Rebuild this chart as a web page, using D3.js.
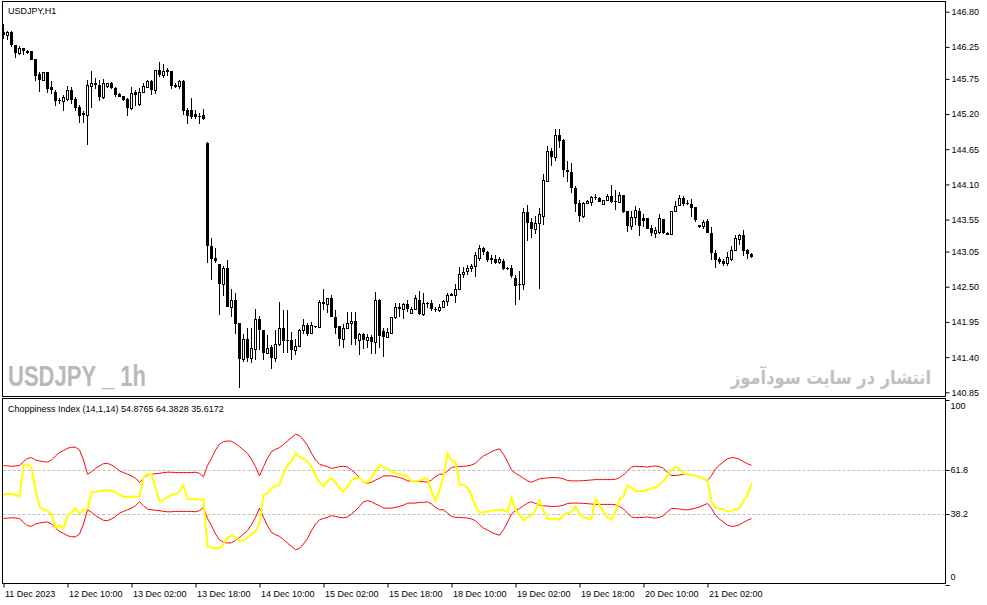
<!DOCTYPE html>
<html><head><meta charset="utf-8">
<script src="https://cdn.jsdelivr.net/npm/d3@7"></script>
<style>
body{margin:0;background:#fff}
svg{display:block}
text{font-family:"Liberation Sans",Arial,sans-serif}
</style>
</head><body>
<svg id="chart" width="987" height="605"></svg>
<script>
// ---------- DATA (USDJPY H1) ----------
const opens=[146.49,146.44,146.49,146.28,146.16,146.24,146.19,146.18,146.06,145.82,
145.74,145.85,145.62,145.55,145.42,145.40,145.44,145.58,145.43,145.31,
145.21,145.19,145.64,145.69,145.66,145.47,145.64,145.68,145.61,145.52,
145.48,145.43,145.29,145.54,145.36,145.54,145.63,145.71,145.57,145.89,
145.81,145.89,145.88,145.66,145.64,145.72,145.27,145.27,145.20,145.17,
145.19,144.75,143.14,142.95,142.85,142.54,142.80,142.19,142.30,141.93,
141.37,141.69,141.38,141.53,141.99,141.83,141.46,141.56,141.39,141.61,
141.85,141.66,141.66,141.51,141.57,141.83,141.90,141.77,141.88,141.87,
142.26,142.23,142.33,142.02,141.88,141.69,141.86,141.93,141.96,141.66,
141.76,141.66,141.72,141.64,142.30,141.81,141.72,141.78,142.02,142.19,
142.16,142.23,142.09,142.15,142.30,142.07,142.25,142.25,142.16,142.14,
142.18,142.27,142.38,142.37,142.47,142.70,142.74,142.80,142.82,142.95,
143.10,143.04,142.95,142.94,142.88,142.91,142.80,142.80,142.63,142.55,
142.55,143.67,143.52,143.41,143.49,143.61,144.16,144.62,144.53,144.87,
144.80,144.33,144.30,144.05,143.81,143.61,143.81,143.83,143.91,143.89,
143.79,143.85,143.92,143.84,143.83,143.93,143.69,143.45,143.59,143.69,
143.57,143.57,143.42,143.34,143.36,143.56,143.34,143.32,143.69,143.78,
143.88,143.81,143.79,143.74,143.46,143.45,143.53,143.34,143.03,142.93,
142.91,142.87,142.94,143.07,143.25,143.31,143.07,143.01];
const highs=[146.61,146.50,146.50,146.28,146.27,146.24,146.20,146.18,146.06,145.86,
145.85,145.85,145.71,145.58,145.45,145.50,145.64,145.62,145.47,145.34,
145.24,145.74,145.87,145.76,145.74,145.75,145.69,145.70,145.63,145.53,
145.48,145.45,145.62,145.58,145.61,145.68,145.74,145.74,145.89,146.02,
145.98,145.92,145.88,145.68,145.74,145.74,145.30,145.45,145.27,145.21,
145.28,144.76,143.26,143.10,142.85,142.82,142.92,142.47,142.40,141.93,
141.76,141.85,141.85,142.16,142.04,141.83,141.75,141.59,141.82,142.26,
142.13,142.13,141.80,141.69,141.84,141.99,141.94,141.95,141.89,142.29,
142.46,142.33,142.37,142.13,141.88,141.91,142.10,142.11,142.10,141.78,
141.78,141.76,141.74,142.42,142.31,141.85,141.85,142.03,142.25,142.24,
142.25,142.29,142.18,142.37,142.44,142.40,142.26,142.30,142.18,142.23,
142.30,142.40,142.40,142.54,142.81,142.81,142.84,142.86,143.04,143.15,
143.12,143.06,143.00,143.00,142.96,142.94,142.81,142.84,142.68,142.74,
143.73,143.78,143.58,143.60,143.73,144.27,144.70,144.67,144.96,144.96,
144.81,144.46,144.43,144.07,143.85,143.83,143.85,143.92,143.95,143.90,
143.86,143.95,144.09,144.01,143.98,143.94,143.69,143.69,143.76,143.73,
143.64,143.58,143.47,143.43,143.64,143.56,143.35,143.69,143.84,143.93,
143.92,143.85,143.87,143.75,143.47,143.55,143.56,143.44,143.07,142.96,
142.94,143.04,143.13,143.31,143.33,143.39,143.09,143.03];
const lows=[146.38,146.36,146.25,146.08,146.13,146.12,146.14,146.05,145.72,145.54,
145.71,145.53,145.52,145.33,145.36,145.24,145.41,145.36,145.24,145.06,
145.06,144.72,145.29,145.59,145.41,145.43,145.61,145.59,145.46,145.46,
145.40,145.17,145.27,145.32,145.32,145.53,145.62,145.50,145.52,145.78,
145.76,145.79,145.59,145.60,145.59,145.18,145.05,145.12,145.13,145.05,
145.11,142.87,142.60,142.87,142.06,142.36,142.19,142.03,141.76,140.92,
141.32,141.32,141.31,141.36,141.51,141.36,141.45,141.21,141.32,141.57,
141.47,141.47,141.35,141.44,141.57,141.76,141.73,141.77,141.85,141.87,
142.13,142.09,142.03,141.76,141.57,141.55,141.84,141.59,141.59,141.43,
141.52,141.55,141.45,141.45,141.55,141.40,141.71,141.77,141.99,142.03,
142.00,142.11,142.07,142.13,142.06,142.05,142.17,142.12,142.11,142.11,
142.17,142.20,142.35,142.24,142.45,142.63,142.68,142.73,142.65,142.90,
143.00,142.89,142.86,142.86,142.85,142.76,142.76,142.64,142.21,142.29,
142.45,143.22,143.26,143.33,142.47,143.46,144.13,144.39,144.47,144.67,
144.22,144.14,143.97,143.67,143.52,143.57,143.79,143.76,143.86,143.82,
143.79,143.84,143.81,143.70,143.81,143.66,143.35,143.39,143.47,143.29,
143.44,143.40,143.29,143.26,143.33,143.32,143.31,143.31,143.68,143.77,
143.77,143.78,143.59,143.52,143.42,143.41,143.34,142.92,142.79,142.86,
142.82,142.83,142.91,143.06,143.16,142.98,142.93,142.95];
const closes=[146.44,146.48,146.28,146.16,146.24,146.19,146.16,146.05,145.80,145.74,
145.85,145.59,145.57,145.40,145.41,145.47,145.58,145.42,145.29,145.17,
145.18,145.66,145.68,145.65,145.47,145.68,145.69,145.61,145.50,145.47,
145.42,145.29,145.53,145.49,145.55,145.64,145.71,145.57,145.89,145.81,
145.87,145.86,145.64,145.62,145.71,145.24,145.17,145.16,145.15,145.17,
145.12,143.13,142.94,142.91,142.54,142.79,142.19,142.30,141.91,141.37,
141.69,141.38,141.55,141.99,141.83,141.46,141.55,141.38,141.61,141.85,
141.65,141.66,141.51,141.57,141.83,141.90,141.76,141.90,141.87,142.26,
142.23,142.33,142.03,141.86,141.69,141.86,141.94,141.96,141.68,141.76,
141.66,141.72,141.64,142.30,141.73,141.72,141.80,142.02,142.19,142.16,
142.23,142.15,142.15,142.32,142.07,142.25,142.23,142.16,142.13,142.19,
142.27,142.37,142.36,142.47,142.70,142.73,142.79,142.83,142.99,143.10,
143.04,142.92,142.92,142.87,142.93,142.78,142.77,142.67,142.51,142.53,
143.67,143.49,143.41,143.49,143.63,144.17,144.62,144.53,144.87,144.78,
144.32,144.29,144.04,143.80,143.61,143.81,143.84,143.91,143.88,143.83,
143.86,143.92,143.83,143.84,143.93,143.67,143.45,143.59,143.70,143.45,
143.53,143.40,143.34,143.38,143.57,143.34,143.31,143.69,143.76,143.88,
143.80,143.79,143.73,143.54,143.44,143.52,143.34,143.02,142.92,142.89,
142.86,142.96,143.08,143.26,143.31,143.06,143.01,142.97];

// Choppiness Index (14,1,14)
const chop=[48.4,48.9,49.1,48.4,47.5,64.6,65.0,63.2,51.1,42.1,
40.3,39.8,38.0,30.8,31.9,30.1,37.3,39.1,41.2,38.5,
40.3,40.8,50.2,50.2,50.4,50.8,51.1,50.6,49.9,48.4,
47.5,47.5,47.5,47.5,47.7,57.8,59.6,59.8,52.0,45.2,
45.5,47.3,48.4,48.9,50.2,53.5,46.1,46.1,46.1,46.1,
45.5,20.5,20.0,19.6,19.6,21.8,25.4,26.5,25.4,23.6,
23.6,25.4,27.2,28.6,33.1,48.4,49.3,52.0,53.3,53.8,
60.1,64.3,66.8,70.9,69.1,67.9,66.4,63.7,59.2,55.3,
52.9,55.9,57.4,55.3,52.0,50.2,52.9,56.5,57.4,57.8,
55.3,55.3,57.8,61.4,64.3,63.5,62.5,61.0,60.3,59.6,
59.2,58.3,56.0,56.0,56.2,57.1,57.1,50.2,45.2,51.1,
58.3,70.9,66.8,66.4,54.2,53.8,52.4,48.4,42.1,38.9,
39.1,39.4,39.8,40.1,40.3,40.5,39.1,47.0,40.3,38.0,
34.4,36.2,37.3,40.3,45.7,39.8,35.5,35.5,35.5,34.9,
37.6,38.5,39.4,42.1,38.0,36.2,35.5,35.5,46.3,43.0,
39.4,36.2,34.9,39.4,46.3,47.5,53.5,52.4,50.6,50.6,
50.6,51.1,52.0,52.4,54.2,56.0,58.9,61.9,63.5,62.5,
60.1,59.6,59.2,58.7,58.1,57.1,56.5,44.8,41.6,40.9,
40.7,39.4,39.8,40.5,41.2,45.2,48.4,54.7];
const chopUpper=[64.3,64.1,63.9,64.1,64.3,66.4,68.2,68.6,67.3,66.8,
66.4,66.2,67.3,69.5,71.3,72.4,73.6,74.2,74.2,72.7,
67.3,59.6,61.0,62.8,64.1,65.3,65.5,64.6,63.2,61.4,
60.5,59.6,58.7,57.4,55.3,57.4,59.2,59.6,59.9,60.1,
60.5,60.7,60.7,60.5,60.5,60.5,60.5,60.5,60.7,60.1,
58.3,64.3,68.2,72.7,75.8,77.2,77.6,77.4,76.1,74.5,
72.7,70.9,67.7,63.7,58.7,63.7,68.2,71.8,73.1,74.0,
75.8,77.6,79.4,81.2,80.5,78.1,75.1,70.9,67.3,65.0,
64.3,63.7,62.8,63.2,63.7,63.9,63.5,61.9,60.1,57.8,
55.3,54.7,55.3,56.5,57.4,58.7,58.7,58.7,58.3,57.8,
57.1,56.0,56.0,56.0,55.6,55.6,55.3,56.5,58.3,59.6,
59.6,61.4,63.2,63.7,63.7,63.9,64.1,64.6,65.5,67.7,
69.5,70.6,71.8,72.7,73.3,70.4,66.4,61.9,60.1,58.9,
57.4,56.0,55.3,56.2,57.1,57.4,57.6,57.8,57.8,57.6,
57.1,56.2,56.0,56.0,56.0,56.2,56.3,56.5,56.7,56.7,
56.7,56.7,56.7,56.9,57.8,59.2,61.4,63.5,63.9,63.7,
63.7,63.5,63.9,64.1,63.7,62.8,60.7,58.9,58.9,59.2,
59.6,59.6,59.2,58.7,58.1,57.1,56.2,58.9,62.5,64.6,
66.4,67.9,68.6,68.4,67.7,66.4,65.3,64.4];
const chopLower=[35.7,35.9,36.1,35.9,35.7,33.6,31.8,31.4,32.7,33.2,
33.6,33.8,32.7,30.5,28.7,27.6,26.4,25.8,25.8,27.3,
32.7,40.4,39.0,37.2,35.9,34.7,34.5,35.4,36.8,38.6,
39.5,40.4,41.3,42.6,44.7,42.6,40.8,40.4,40.1,39.9,
39.5,39.3,39.3,39.5,39.5,39.5,39.5,39.5,39.3,39.9,
41.7,35.7,31.8,27.3,24.2,22.8,22.4,22.6,23.9,25.5,
27.3,29.1,32.3,36.3,41.3,36.3,31.8,28.2,26.9,26.0,
24.2,22.4,20.6,18.8,19.5,21.9,24.9,29.1,32.7,35.0,
35.7,36.3,37.2,36.8,36.3,36.1,36.5,38.1,39.9,42.2,
44.7,45.3,44.7,43.5,42.6,41.3,41.3,41.3,41.7,42.2,
42.9,44.0,44.0,44.0,44.4,44.4,44.7,43.5,41.7,40.4,
40.4,38.6,36.8,36.3,36.3,36.1,35.9,35.4,34.5,32.3,
30.5,29.4,28.2,27.3,26.7,29.6,33.6,38.1,39.9,41.1,
42.6,44.0,44.7,43.8,42.9,42.6,42.4,42.2,42.2,42.4,
42.9,43.8,44.0,44.0,44.0,43.8,43.7,43.5,43.3,43.3,
43.3,43.3,43.3,43.1,42.2,40.8,38.6,36.5,36.1,36.3,
36.3,36.5,36.1,35.9,36.3,37.2,39.3,41.1,41.1,40.8,
40.4,40.4,40.8,41.3,41.9,42.9,43.8,41.1,37.5,35.4,
33.6,32.1,31.4,31.6,32.3,33.6,34.7,35.6];
const chopLevels=[61.8,38.2];
const chopAxisValues=[100,61.8,38.2,0];

const priceTicks=[146.80,146.25,145.75,145.20,144.65,144.10,143.55,143.05,142.50,141.95,141.40,140.85];
const timeTickBars=[0,16,32,48,64,80,96,112,128,144,160,176];
const timeTickLabels=["11 Dec 2023","12 Dec 10:00","13 Dec 02:00","13 Dec 18:00","14 Dec 10:00","15 Dec 02:00",
"15 Dec 18:00","18 Dec 10:00","19 Dec 02:00","19 Dec 18:00","20 Dec 10:00","21 Dec 02:00"];

const title="USDJPY,H1";
const indTitle="Choppiness Index (14,1,14) 54.8765 64.3828 35.6172";
const watermarkLeft="USDJPY _ 1h";
const watermarkRight="انتشار در سایت سودآموز";

// ---------- LAYOUT ----------
const svg=d3.select("#chart");
const L=2.5,R=945.5,mainTop=1.5,mainBot=396.5,indTop=398.5,indBot=583.5;
const x=d3.scaleLinear().domain([0,1]).range([3,7]);          // bar index -> centre column
const y=d3.scaleLinear().domain([140.85,146.80]).range([392.3,11.7]);
const yi=d3.scaleLinear().domain([0,100]).range([584.5,399.5]);

svg.append("rect").attr("width",987).attr("height",605).attr("fill","#fff");

const defs=svg.append("defs");
defs.append("clipPath").attr("id","clipMain").append("rect")
  .attr("x",L).attr("y",mainTop).attr("width",R-L).attr("height",mainBot-mainTop);
defs.append("clipPath").attr("id","clipInd").append("rect")
  .attr("x",L).attr("y",indTop).attr("width",R-L).attr("height",indBot-indTop);

// watermarks
svg.append("text").attr("x",8).attr("y",386).text(watermarkLeft)
  .attr("font-size",30).attr("font-weight","bold").attr("fill","#b9b9b9")
  .attr("textLength",138).attr("lengthAdjust","spacingAndGlyphs")
  .style("font-family","'Liberation Sans Narrow','Liberation Sans',Arial,sans-serif");
svg.append("text").attr("x",931).attr("y",384).text(watermarkRight)
  .attr("font-size",19).attr("font-weight","bold").attr("fill","#c0c0c0")
  .attr("text-anchor","end").attr("textLength",200).attr("lengthAdjust","spacingAndGlyphs")
  .style("font-family","'DejaVu Sans',sans-serif");

// candles
const N=opens.length;
const idx=d3.range(N);
const gC=svg.append("g").attr("clip-path","url(#clipMain)");
idx.forEach(i=>{
  const c=Math.round(x(i));
  const o=opens[i],h=highs[i],l=lows[i],cl=closes[i];
  const yh=Math.round(y(h)),yl=Math.round(y(l));
  gC.append("rect").attr("x",c).attr("y",yh).attr("width",1).attr("height",Math.max(1,yl-yh)).attr("fill","#000");
  const t=Math.round(y(Math.max(o,cl))),b=Math.round(y(Math.min(o,cl)));
  if(cl>o && b-t>=2){
    gC.append("rect").attr("x",c-0.5).attr("y",t+0.5).attr("width",2).attr("height",b-t)
      .attr("fill","#fff").attr("stroke","#000").attr("stroke-width",1);
  }else{
    gC.append("rect").attr("x",c-1).attr("y",t).attr("width",3).attr("height",Math.max(1,b-t)).attr("fill","#000");
  }
});

// indicator
const gI=svg.append("g").attr("clip-path","url(#clipInd)");
chopLevels.forEach(v=>{
  gI.append("line").attr("x1",L).attr("x2",R).attr("y1",Math.round(yi(v))+0.5).attr("y2",Math.round(yi(v))+0.5)
    .attr("stroke","#c0c0c0").attr("stroke-dasharray","3,2");
});
const line=d3.line().x((d,i)=>x(i)+0.5).y(d=>yi(d));
gI.append("path").datum(chopUpper).attr("d",line).attr("fill","none").attr("stroke","#ff0000").attr("stroke-width",1);
gI.append("path").datum(chopLower).attr("d",line).attr("fill","none").attr("stroke","#ff0000").attr("stroke-width",1);
gI.append("path").datum(chop).attr("d",line).attr("fill","none").attr("stroke","#ffff00").attr("stroke-width",2);

// frames
svg.append("rect").attr("x",L).attr("y",mainTop).attr("width",R-L).attr("height",mainBot-mainTop)
  .attr("fill","none").attr("stroke","#000");
svg.append("rect").attr("x",L).attr("y",indTop).attr("width",R-L).attr("height",indBot-indTop)
  .attr("fill","none").attr("stroke","#000");

// titles
svg.append("text").attr("x",8).attr("y",13.5).attr("font-size",9).text(title);
svg.append("text").attr("x",8).attr("y",411.5).attr("font-size",9).text(indTitle);

// price axis
const pa=svg.append("g").attr("transform",`translate(${R},0)`)
  .call(d3.axisRight(y).tickValues(priceTicks).tickFormat(d3.format(".2f")).tickSize(4).tickPadding(2));
pa.select(".domain").remove();
pa.selectAll("text").attr("font-size",9).style("font-family","'Liberation Sans',Arial,sans-serif").attr("fill","#000");
pa.selectAll("line").attr("stroke","#000");

// indicator axis
const ia=svg.append("g");
chopAxisValues.forEach(v=>{
  const yy=Math.round(yi(v));
  ia.append("line").attr("x1",R).attr("x2",R+4).attr("y1",yy+0.5).attr("y2",yy+0.5).attr("stroke","#000");
  const ty=Math.min(Math.max(yy,406),577);
  ia.append("text").attr("x",R+5).attr("y",ty).attr("dy","0.32em").attr("font-size",9).text(v);
});

// time axis
const ta=svg.append("g").attr("transform",`translate(0,${indBot})`)
  .call(d3.axisBottom(d3.scaleLinear().domain([0,1]).range([3.5,7.5])).tickValues(timeTickBars)
    .tickFormat((d,i)=>timeTickLabels[i]).tickSize(4).tickPadding(3));
ta.select(".domain").remove();
ta.selectAll("text").attr("font-size",9).attr("text-anchor","start").attr("x",1)
  .style("font-family","'Liberation Sans',Arial,sans-serif").attr("fill","#000");
ta.selectAll("line").attr("stroke","#000");
</script>
</body></html>
